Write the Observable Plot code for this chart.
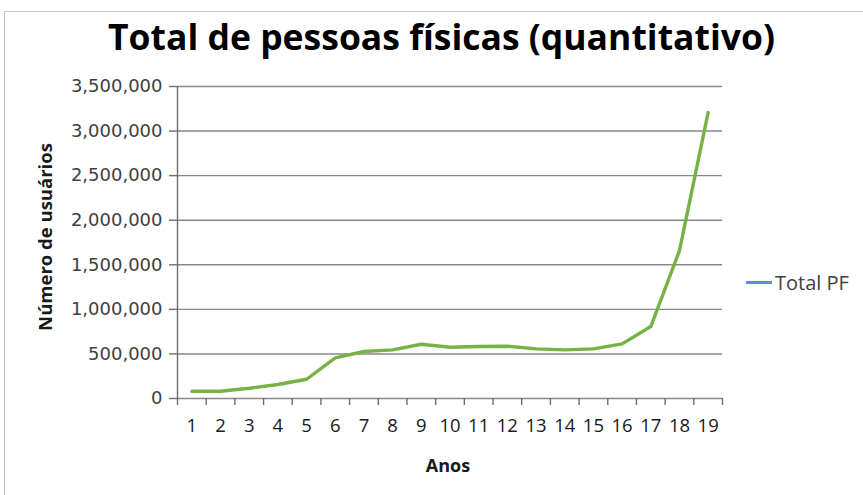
<!DOCTYPE html>
<html>
<head>
<meta charset="utf-8">
<script src="https://cdn.jsdelivr.net/npm/d3@7"></script>
<script src="https://cdn.jsdelivr.net/npm/@observablehq/plot@0.6"></script>
<style>
  html, body { margin: 0; padding: 0; background: #fff; overflow: hidden; }
  #wrap { position: relative; width: 863px; height: 495px; overflow: hidden; }
  #frame { position: absolute; left: 4px; top: 11px; width: 900px; height: 600px; border: 1px solid #c6c6c6; box-sizing: border-box; }
  #title { position: absolute; left: 0; top: 12px; width: 883px; text-align: center; font-family: "Open Sans", sans-serif; font-weight: bold; font-size: 35.5px; color: #000; white-space: nowrap; }
  #chart { position: absolute; left: 0; top: 0; }
  #ytitle { position: absolute; left: 44px; top: 237px; transform: translate(-50%, -50%) rotate(-90deg); font-family: "Open Sans", sans-serif; font-weight: bold; font-size: 18.5px; color: #1a1a1a; white-space: nowrap; }
  #xtitle { position: absolute; left: 448px; top: 453px; transform: translateX(-50%); font-family: "Open Sans", sans-serif; font-weight: bold; font-size: 18px; color: #1a1a1a; white-space: nowrap; }
  #legend { position: absolute; left: 746px; top: 269px; font-family: "Open Sans", sans-serif; font-size: 20px; color: #404040; white-space: nowrap; display: flex; align-items: center; }
  #legend .sw { display: inline-block; width: 26px; height: 3px; background: #5b8fd3; margin-right: 3px; }
</style>
</head>
<body>
<div id="wrap">
  <div id="frame"></div>
  <div id="chart"></div>
  <div id="title">Total de pessoas físicas (quantitativo)</div>
  <div id="ytitle">Número de usuários</div>
  <div id="xtitle">Anos</div>
  <div id="legend"><span class="sw"></span><span>Total PF</span></div>
</div>
<script>
// Data
const anos = [1, 2, 3, 4, 5, 6, 7, 8, 9, 10, 11, 12, 13, 14, 15, 16, 17, 18, 19];
const totalPF = [82000, 82000, 115000, 157000, 216000, 456000, 527000, 546000, 609000, 575000,
                 583000, 586000, 557000, 546000, 557000, 613000, 807000, 1659000, 3209000];
const yTicks = [0, 500000, 1000000, 1500000, 2000000, 2500000, 3000000, 3500000];

const data = anos.map((a, i) => ({ano: a, valor: totalPF[i]}));
const xDomain = [anos[0] - 0.5, anos[anos.length - 1] + 0.5];
const bounds = d3.range(xDomain[0], xDomain[1] + 0.001, 1);

const chart = Plot.plot({
  width: 863,
  height: 495,
  marginLeft: 177,
  marginRight: 141,
  marginTop: 86,
  marginBottom: 97,
  style: { background: "transparent", color: "#404040" },
  x: { type: "linear", domain: xDomain },
  y: { domain: [0, 3500000] },
  marks: [
    Plot.gridY(yTicks, { stroke: "#878787", strokeOpacity: 1, strokeWidth: 1.4 }),
    Plot.ruleX([xDomain[0]], { stroke: "#6e6e6e", strokeWidth: 1.4 }),
    Plot.axisY({ ticks: yTicks, tickSize: 8, tickPadding: 7, tickFormat: d3.format(","),
                 fontSize: 18, fontFamily: "DejaVu Sans", fill: "#404040", stroke: "#6e6e6e", strokeWidth: 1.4, label: null }),
    Plot.axisX({ ticks: bounds, tickSize: 7, tickFormat: () => "", stroke: "#6e6e6e", strokeWidth: 1.4, label: null }),
    Plot.axisX({ ticks: anos, tickSize: 0, tickPadding: 20, tickFormat: d => String(d),
                 fontSize: 18.5, fontFamily: "Open Sans", fill: "#1a1a1a", label: null }),
    Plot.line(data, { x: "ano", y: "valor", stroke: "#77b246", strokeWidth: 3.4 })
  ]
});
document.getElementById("chart").appendChild(chart);
</script>
</body>
</html>
